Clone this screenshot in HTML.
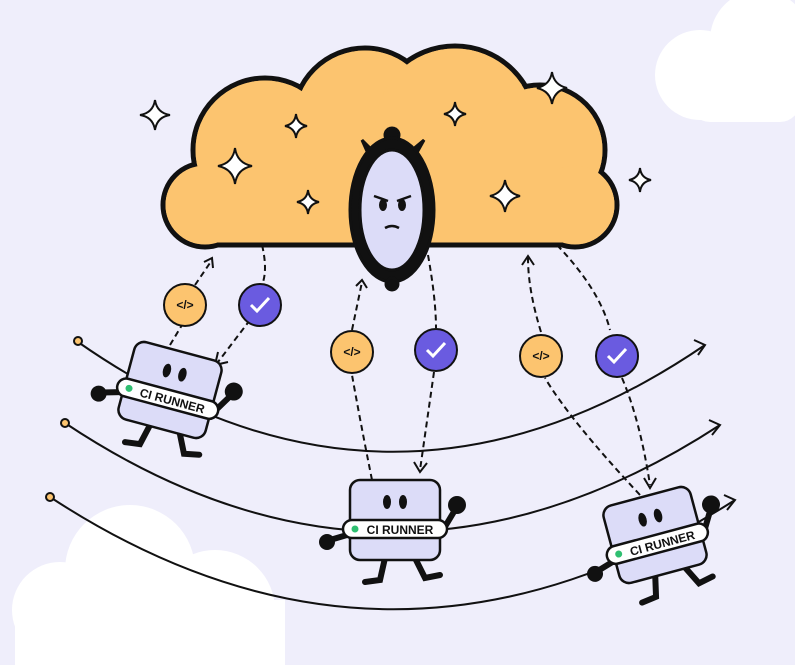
<!DOCTYPE html>
<html><head><meta charset="utf-8"><style>
html,body{margin:0;padding:0;background:#efeefb;}
svg{display:block}
text{font-family:"Liberation Sans",sans-serif;font-weight:bold}
</style></head><body>
<svg width="795" height="665" viewBox="0 0 795 665" xmlns="http://www.w3.org/2000/svg">
<rect width="795" height="665" fill="#efeefb"/>
<!-- white clouds -->
<g fill="#ffffff">
<circle cx="760" cy="40" r="50"/><circle cx="700" cy="75" r="45"/><rect x="690" y="60" width="110" height="62" rx="20"/>
<circle cx="130" cy="570" r="65"/><circle cx="60" cy="610" r="48"/><circle cx="215" cy="610" r="60"/><rect x="15" y="600" width="270" height="70"/>
</g>
<!-- orange cloud -->
<g stroke="#111" stroke-width="5" fill="#fcc46f">
<circle cx="205" cy="205" r="42"/><circle cx="265" cy="150" r="72"/><circle cx="365" cy="120" r="72"/><circle cx="455" cy="128" r="82"/><circle cx="540" cy="150" r="65"/><circle cx="575" cy="205" r="42"/>
<rect x="200" y="170" width="380" height="75"/>
</g>
<g fill="#fcc46f">
<circle cx="205" cy="205" r="39.5"/><circle cx="265" cy="150" r="69.5"/><circle cx="365" cy="120" r="69.5"/><circle cx="455" cy="128" r="79.5"/><circle cx="540" cy="150" r="62.5"/><circle cx="575" cy="205" r="39.5"/>
<rect x="202" y="172" width="376" height="70.5"/>
</g>
<!-- sparkles -->
<g fill="#fff" stroke="#111" stroke-width="2">
<path d="M155 100 Q157 113 170 115 Q157 117 155 130 Q153 117 140 115 Q153 113 155 100Z"/>
<path d="M235 148 Q237 163 252 166 Q237 169 235 184 Q233 169 218 166 Q233 163 235 148Z"/>
<path d="M296 114 Q297 124 307 126 Q297 128 296 138 Q295 128 285 126 Q295 124 296 114Z"/>
<path d="M308 190 Q309 200 319 202 Q309 204 308 214 Q307 204 297 202 Q307 200 308 190Z"/>
<path d="M455 102 Q456 112 466 114 Q456 116 455 126 Q454 116 444 114 Q454 112 455 102Z"/>
<path d="M505 180 Q507 193 520 196 Q507 199 505 212 Q503 199 490 196 Q503 193 505 180Z"/>
<path d="M552 72 Q554 85 567 88 Q554 91 552 104 Q550 91 537 88 Q550 85 552 72Z"/>
<path d="M640 168 Q641 178 651 180 Q641 182 640 192 Q639 182 629 180 Q639 178 640 168Z"/>
</g>
<!-- mirror -->
<g stroke="#111" stroke-width="3">
<path d="M372 150 L362 140 L370 158Z" fill="#111"/><path d="M412 150 L424 140 L414 158Z" fill="#111"/>
<circle cx="392" cy="135" r="7" fill="#111"/>
<ellipse cx="392" cy="210" rx="42" ry="72" fill="#111"/>
<ellipse cx="392" cy="210" rx="32" ry="60" fill="#dcdcf8"/>
<circle cx="392" cy="284" r="6" fill="#111"/>
</g>
<g fill="#111"><ellipse cx="383" cy="205" rx="4" ry="6"/><ellipse cx="402" cy="205" rx="4" ry="6"/></g>
<path d="M374 196 L388 201 M411 196 L397 201 M385 228 Q392 224 399 228" stroke="#111" stroke-width="2.5" fill="none"/>
<!-- curves -->
<g stroke="#111" stroke-width="2" fill="none">
<path d="M78 342 Q390 560 705 345"/>
<path d="M65 423 Q390 640 720 425"/>
<path d="M50 497 Q390 720 735 500"/>
<path d="M694 340 L705 345 L698 355 M709 420 L720 425 L712 435 M724 495 L735 500 L727 510"/>
</g>
<g fill="#fcc46f" stroke="#111" stroke-width="2"><circle cx="78" cy="341" r="4"/><circle cx="65" cy="423" r="4"/><circle cx="50" cy="497" r="4"/></g>
<!-- dashed connectors -->
<g stroke="#111" stroke-width="2" fill="none" stroke-dasharray="6 4">
<path d="M170 345 L185 320 M195 285 L212 260"/>
<path d="M262 245 Q268 270 262 285 M250 320 L218 362"/>
<path d="M372 480 Q360 420 352 375 M352 330 L362 282"/>
<path d="M428 255 Q436 300 436 328 M434 372 L420 470"/>
<path d="M640 495 Q570 420 545 378 M541 332 Q528 290 528 258"/>
<path d="M557 245 Q600 290 610 330 M622 378 Q640 420 650 485"/>
</g>
<g stroke="#111" stroke-width="2" fill="none">
<path d="M204 262 L212 258 L213 268 M218 352 L215 365 L228 362 M356 286 L362 280 L367 288 M414 462 L420 472 L427 463 M522 265 L528 256 L534 265 M644 478 L650 488 L656 478"/>
</g>
<!-- badges -->
<g stroke="#111" stroke-width="2">
<circle cx="185" cy="305" r="21" fill="#fcc46f"/><circle cx="352" cy="352" r="21" fill="#fcc46f"/><circle cx="541" cy="356" r="21" fill="#fcc46f"/>
<circle cx="260" cy="305" r="21" fill="#6a5be0"/><circle cx="436" cy="350" r="21" fill="#6a5be0"/><circle cx="617" cy="356" r="21" fill="#6a5be0"/>
</g>
<g font-size="12" fill="#111" text-anchor="middle"><text x="185" y="309">&lt;/&gt;</text><text x="352" y="356">&lt;/&gt;</text><text x="541" y="360">&lt;/&gt;</text></g>
<g stroke="#fff" stroke-width="3" fill="none"><path d="M251 305 L257 311 L269 298"/><path d="M427 350 L433 356 L445 343"/><path d="M608 356 L614 362 L626 349"/></g>
<!-- runners -->
<defs>
<g id="runner">
<g stroke="#111" stroke-width="6" fill="none" stroke-linecap="round">
<path d="M-10 38 L-15 60 L-30 62"/><path d="M20 38 L30 58 L45 55"/><path d="M-48 15 L-65 20"/><path d="M48 10 L60 -10"/>
</g>
<circle cx="-68" cy="22" r="8" fill="#111"/><circle cx="62" cy="-15" r="9" fill="#111"/>
<rect x="-45" y="-40" width="90" height="80" rx="10" fill="#dcdcf8" stroke="#111" stroke-width="2.5"/>
<ellipse cx="-8" cy="-18" rx="4" ry="7" fill="#111"/><ellipse cx="8" cy="-18" rx="4" ry="7" fill="#111"/>
<rect x="-52" y="0" width="104" height="18" rx="9" fill="#fff" stroke="#111" stroke-width="2.5"/>
<circle cx="-40" cy="9" r="3.5" fill="#2fbf71"/>
<text x="5" y="14" font-size="12" text-anchor="middle" fill="#111">CI RUNNER</text>
</g>
</defs>
<use href="#runner" transform="translate(170,390) rotate(15)"/>
<use href="#runner" transform="translate(395,520)"/>
<use href="#runner" transform="translate(655,535) rotate(-15)"/>
</svg>
</body></html>
